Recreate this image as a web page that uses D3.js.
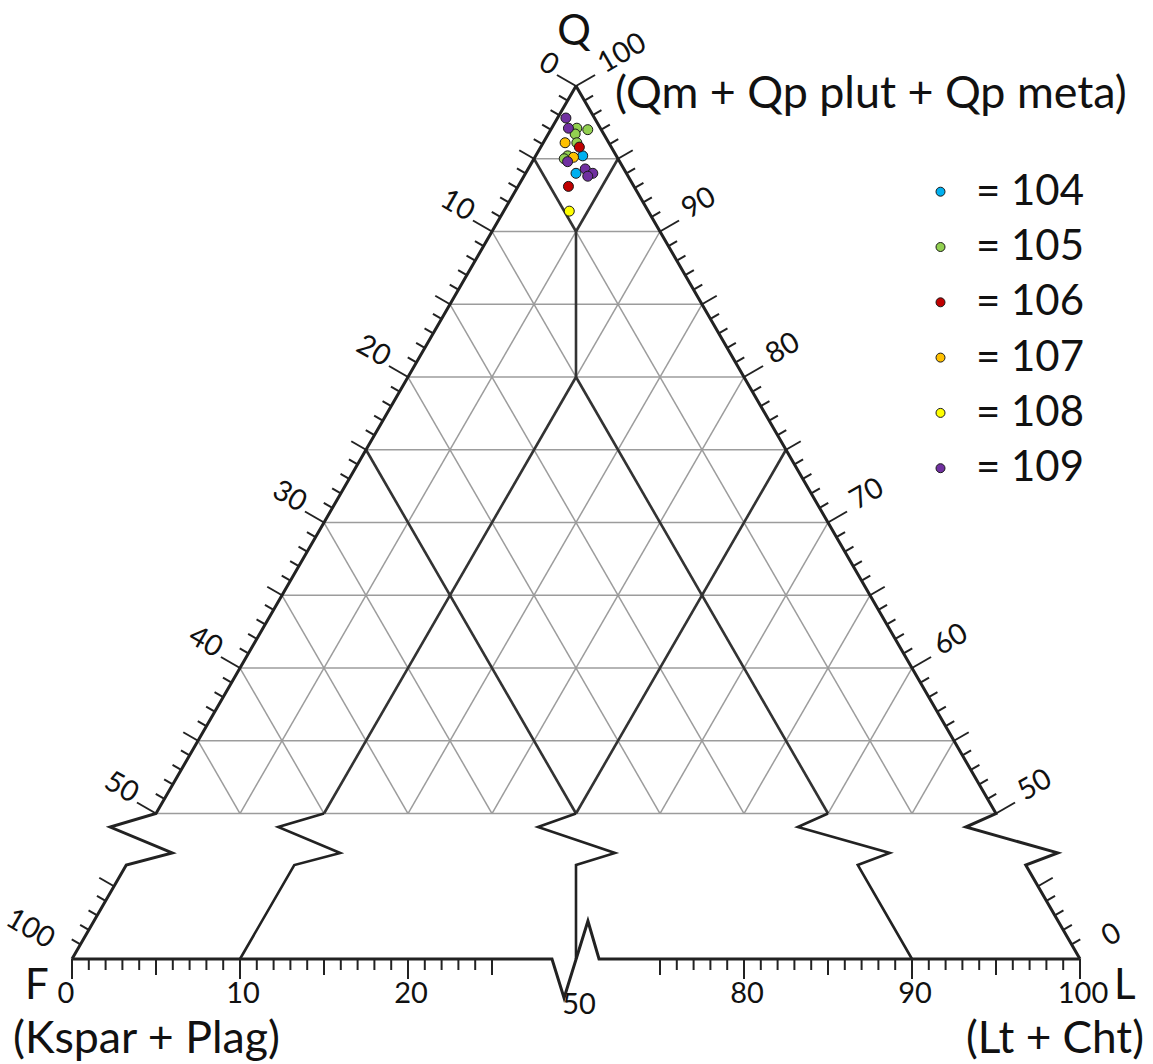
<!DOCTYPE html>
<html>
<head>
<meta charset="utf-8">
<script src="https://cdn.jsdelivr.net/npm/d3@7"></script>
<style>
  body { margin: 0; background: #fff; }
  text { font-family: Lato, "Open Sans", sans-serif; fill: #111; }
</style>
</head>
<body>
<svg id="chart" width="1153" height="1064"></svg>
<script>
// point counts, each row is [Q, F, L] in %
var s104 = [[95.2, 2.0, 2.8], [94.0, 3.0, 3.0]];
var s105 = [[97.1, 1.4, 1.5], [97.0, 0.8, 2.2], [96.7, 1.7, 1.6], [96.1, 1.9, 2.0], [95.2, 2.9, 1.9], [95.0, 3.2, 1.8]];
var s106 = [[95.8, 1.9, 2.3], [93.1, 3.9, 3.0]];
var s107 = [[96.1, 2.6, 1.3], [95.1, 2.6, 2.3]];
var s108 = [[91.4, 4.7, 3.9]];
var s109 = [[97.8, 1.7, 0.5], [97.1, 1.9, 1.0], [94.8, 3.1, 2.1], [94.3, 2.3, 3.4], [94.0, 2.0, 4.0], [93.8, 2.4, 3.8]];

var sampleNames = ["104", "105", "106", "107", "108", "109"];
var sampleColors = ["#00b0f0", "#92d050", "#c00000", "#ffc000", "#ffff00", "#7030a0"];
var samples = [s104, s105, s106, s107, s108, s109];

// provenance field boundaries, [Q, F, L]
var fieldLines = [
  [[95, 5, 0], [90, 5, 5]],
  [[95, 0, 5], [90, 5, 5]],
  [[90, 5, 5], [80, 10, 10]],
  [[80, 10, 10], [50, 40, 10]],
  [[80, 10, 10], [50, 10, 40]],
  [[75, 25, 0], [50, 25, 25]],
  [[75, 0, 25], [50, 25, 25]]
];

var leftTickLabels = [0, 10, 20, 30, 40, 50];      // F along left edge
var rightTickLabels = [100, 90, 80, 70, 60, 50];   // Q along right edge
var bottomTickValues = [0, 10, 20, 50, 80, 90, 100];
var bottomTickLabels = ["0", "10", "20", "50", "80", "90", "100"];

var svg = d3.select("#chart");

// upper part is a true ternary (Q 100..50); below Q=50 the plot is broken
var xs = d3.scaleLinear().domain([-60, 60]).range([72, 1080]); // L - F
var ys = d3.scaleLinear().domain([100, 40]).range([86, 959]);  // Q
var xb = d3.scaleLinear().domain([0, 20, 50, 80, 100]).range([xs(-60), xs(-20), xs(0), xs(20), xs(60)]);

function proj(p) {
  return [xs(p[2] - p[1]), ys(p[0])];
}
var line = d3.line();

// gray grid every 5%
var grid = [];
d3.range(5, 50, 5).forEach(function(k) {
  grid.push([[100 - k, k, 0], [100 - k, 0, k]]);
  grid.push([[100 - k, 0, k], [50, 50 - k, k]]);
  grid.push([[100 - k, k, 0], [50, k, 50 - k]]);
});
grid.push([[50, 50, 0], [50, 0, 50]]);

svg.append("g")
  .selectAll("path")
  .data(grid)
  .enter()
  .append("path")
  .attr("d", function(d) { return line(d.map(proj)); })
  .attr("stroke", "#9c9c9c")
  .attr("stroke-width", 1.5)
  .attr("fill", "none");

svg.append("g")
  .selectAll("path")
  .data(fieldLines)
  .enter()
  .append("path")
  .attr("d", function(d) { return line(d.map(proj)); })
  .attr("stroke", "#333")
  .attr("stroke-width", 2.6)
  .attr("fill", "none");

// break symbols below Q=50
var zigQ = [50, 49.07, 47.29, 46.46];
var zigDx = [0, -38, 39, 0];
var lowerLines = [
  { diff: function(q) { return q - 100; }, top: [100, 0, 0], w: 3 },   // left edge
  { diff: function(q) { return q - 80; }, top: null, w: 2.6 },         // L = 10
  { diff: function(q) { return 0; }, top: null, w: 2.6 },              // F = L
  { diff: function(q) { return 80 - q; }, top: null, w: 2.6 },         // F = 10
  { diff: function(q) { return 100 - q; }, top: [100, 0, 0], w: 3 }    // right edge
];
lowerLines.forEach(function(ln) {
  var pts = [];
  if (ln.top) pts.push(proj(ln.top));
  zigQ.forEach(function(q, i) {
    pts.push([xs(ln.diff(q)) + zigDx[i], ys(q)]);
  });
  pts.push([xs(ln.diff(40)), ys(40)]);
  svg.append("path")
    .attr("d", line(pts))
    .attr("stroke", "#222")
    .attr("stroke-width", ln.w)
    .attr("fill", "none");
});

// bottom axis with break at 50
var bz = [28.57, 29.29, 30.71, 31.37];
var bzDy = [0, 39, -38, 0];
var axisPts = [[xs(-60), ys(40)]];
bz.forEach(function(v, i) { axisPts.push([xs(2 * v - 60), ys(40) + bzDy[i]]); });
axisPts.push([xs(60), ys(40)]);
svg.append("path")
  .attr("d", line(axisPts))
  .attr("stroke", "#222")
  .attr("stroke-width", 3)
  .attr("fill", "none");

// ticks
var ticks = svg.append("g").attr("stroke", "#222").attr("stroke-width", 2);
var nL = [-0.866, -0.5], nR = [0.866, -0.5];
function tickLen(v) {
  return v % 10 === 0 ? 22 : (v % 5 === 0 ? 17 : 10);
}
d3.range(0, 51).forEach(function(v) {
  var p = proj([100 - v, v, 0]);
  var len = tickLen(v);
  ticks.append("line").attr("x1", p[0]).attr("y1", p[1])
    .attr("x2", p[0] + nL[0] * len).attr("y2", p[1] + nL[1] * len);
  p = proj([100 - v, 0, v]);
  ticks.append("line").attr("x1", p[0]).attr("y1", p[1])
    .attr("x2", p[0] + nR[0] * len).attr("y2", p[1] + nR[1] * len);
});
// ticks on the broken lower edges
[41, 42, 43, 44, 45].forEach(function(q) {
  var len = q === 45 ? 17 : 10;
  var pl = [xs(q - 100), ys(q)];
  var pr = [xs(100 - q), ys(q)];
  ticks.append("line").attr("x1", pl[0]).attr("y1", pl[1])
    .attr("x2", pl[0] + nL[0] * len).attr("y2", pl[1] + nL[1] * len);
  ticks.append("line").attr("x1", pr[0]).attr("y1", pr[1])
    .attr("x2", pr[0] + nR[0] * len).attr("y2", pr[1] + nR[1] * len);
});
// ticks on the bottom axis (real values, spacing compressed inside the break)
var bottomTicks = d3.range(0, 21).concat([23, 26, 29, 32, 35, 65, 68, 71, 74, 77]).concat(d3.range(80, 101));
bottomTicks.forEach(function(v) {
  var px = xb(v);
  var lv = Math.round((px - xs(-60)) / (xs(-58) - xs(-60)));
  var len = lv % 10 === 0 ? 20 : (lv % 5 === 0 ? 16 : 11);
  ticks.append("line").attr("x1", px).attr("y1", ys(40))
    .attr("x2", px).attr("y2", ys(40) + len);
});

// edge labels
function edgeLabel(txt, p, n, rot, off) {
  var t = svg.append("text")
    .attr("font-size", 29)
    .attr("text-anchor", "middle")
    .attr("dy", "0.35em")
    .text(txt);
  var w = t.node().getComputedTextLength();
  var u = rot > 0 ? [0.5, -0.866] : [-0.5, -0.866];
  var cx = p[0] + n[0] * (off + w / 2) + u[0] * 6.5;
  var cy = p[1] + n[1] * (off + w / 2) + u[1] * 6.5;
  t.attr("transform", "translate(" + cx + "," + cy + ") rotate(" + rot + ")");
}
leftTickLabels.forEach(function(v) {
  edgeLabel(String(v), proj([100 - v, v, 0]), nL, 30, 26);
});
edgeLabel("100", [xs(-60), ys(40)], nL, 30, 26);
rightTickLabels.forEach(function(v) {
  edgeLabel(String(v), proj([v, 0, 100 - v]), nR, -30, 31);
});
edgeLabel("0", [xs(60), ys(40)], nR, -30, 31);

svg.append("g")
  .selectAll("text")
  .data(bottomTickValues)
  .enter()
  .append("text")
  .attr("font-size", 29)
  .attr("text-anchor", "middle")
  .attr("x", function(d) { return xb(d) + (d === 0 ? -6 : 3); })
  .attr("y", function(d) { return d === 50 ? 1014 : 1003; })
  .text(function(d, i) { return bottomTickLabels[i]; });

// big labels, sized to the width they take in the figure
function bigText(x, y, str, anchor, width) {
  var t = svg.append("text")
    .attr("x", x).attr("y", y)
    .attr("font-size", 42)
    .attr("text-anchor", anchor)
    .text(str);
  if (width) {
    var w = t.node().getComputedTextLength();
    t.attr("font-size", 42 * width / w);
  }
  return t;
}
bigText(574, 45, "Q", "middle", 0);
bigText(615, 108, "(Qm + Qp plut + Qp meta)", "start", 512);
bigText(25, 999, "F", "start", 0);
bigText(13, 1053, "(Kspar + Plag)", "start", 267);
bigText(1114, 999, "L", "start", 0);
bigText(1144, 1053, "(Lt + Cht)", "end", 178);

// points
samples.forEach(function(pts, i) {
  svg.append("g")
    .selectAll("circle")
    .data(pts)
    .enter()
    .append("circle")
    .attr("cx", function(d) { return proj(d)[0]; })
    .attr("cy", function(d) { return proj(d)[1]; })
    .attr("r", 5)
    .attr("fill", sampleColors[i])
    .attr("stroke", "#1a1a1a")
    .attr("stroke-width", 1);
});

// legend
var legend = svg.append("g");
sampleNames.forEach(function(name, i) {
  var cy = 191.7 + i * 55.3;
  legend.append("circle")
    .attr("cx", 940.5).attr("cy", cy).attr("r", 4.5)
    .attr("fill", sampleColors[i])
    .attr("stroke", "#1a1a1a").attr("stroke-width", 1);
  bigText(976, cy + 13, "= " + name, "start", 108);
});
</script>
</body>
</html>
